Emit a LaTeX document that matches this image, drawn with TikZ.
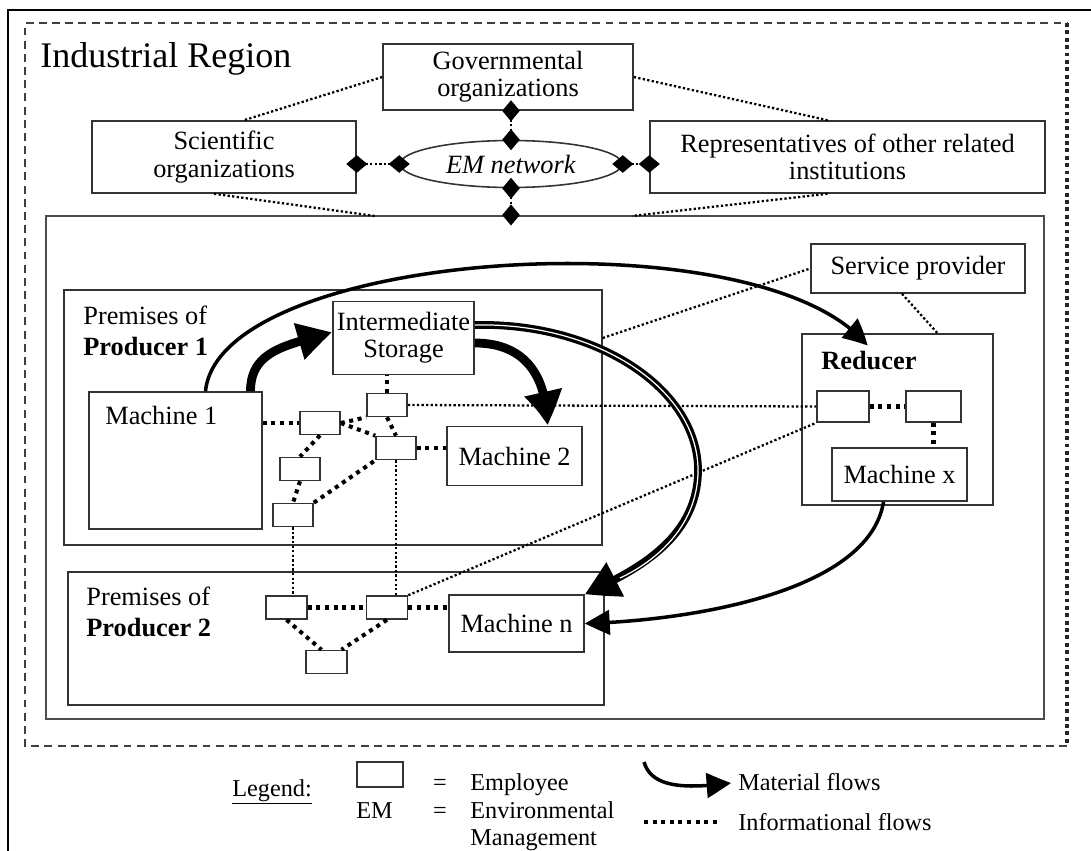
\documentclass[tikz,border=0pt]{standalone}
\usepackage{fontspec}
\setmainfont{Liberation Serif}
\usetikzlibrary{arrows.meta,bending,shapes.geometric}
\newcommand{\boxfont}{\fontsize{15}{15.5}\selectfont}
\newcommand{\premfont}{\fontsize{15}{17.5}\selectfont}
\newcommand{\legfont}{\fontsize{13.8}{15.3}\selectfont}

\begin{document}
\begin{tikzpicture}[x=0.02cm,y=-0.02cm,>=latex]
	\useasboundingbox (0,0) rectangle (1091,851);
	\tikzstyle{every node}=[inner sep=0pt]
	\tikzstyle{box}=[draw=black!80,line width=0.9pt,rectangle,align=center,font=\boxfont]
	\tikzstyle{emp}=[box,minimum width=0.8cm,minimum height=0.46cm]
	\tikzstyle{lbl}=[anchor=north west,align=left,font=\premfont]
	\tikzstyle{link}=[line width=1.3pt,dash pattern=on 1.3pt off 1.3pt]
	\tikzstyle{info}=[line width=2.3pt,dash pattern=on 2.3pt off 2.6pt]
	\tikzstyle{net}=[link,{Diamond[length=12pt,width=10pt]}-{Diamond[length=12pt,width=10pt]},shorten <=-6pt,shorten >=-6pt]
	\tikzstyle{flow}=[line width=2pt,-{Triangle[length=14pt,width=14pt,bend]}]
	\tikzstyle{bigflow}=[line width=5pt,-{Triangle[length=20pt,width=20pt,bend]}]
	\tikzstyle{dflow}=[line width=4.4pt,-{Triangle[length=19pt,width=21pt,bend]},postaction={draw=white,line width=0.7pt,-,shorten >=22pt}]

	%% Frame and region
	\draw [line width=1.1pt] (1091,10) -- (8,10) -- (8,851);
	\draw [draw=black!75,line width=1pt,dash pattern=on 4.5pt off 3pt] (1067,746) -- (25,746) -- (25,23) -- (1067,23);
	\draw [draw=black!85,line width=2.2pt,dash pattern=on 2.2pt off 2pt] (1067,23) -- (1067,746);
	\draw (40,42) node [anchor=north west,font=\fontsize{20.5}{24}\selectfont] (region) {Industrial Region};

	%% EM network
	\draw (508,77) node [box,minimum width=5cm,minimum height=1.32cm] (gov) {Governmental\\organizations};
	\draw (224,157) node [box,minimum width=5.28cm,minimum height=1.44cm] (sci) {Scientific\\organizations};
	\draw (847.5,157) node [box,minimum width=7.9cm,minimum height=1.44cm] (rep) {Representatives of other related\\institutions};
	\draw (511,164) node [box,ellipse,minimum width=4.44cm,minimum height=0.94cm] (em) {\textit{EM network}};

	%% Site
	\draw (545,467.5) node [box,draw=black!70,line width=1.2pt,minimum width=19.96cm,minimum height=10.06cm] (park) {};
	\coordinate (parkl) at (375,216);
	\coordinate (parkr) at (632,216);

	\draw [net] (gov.south -| em.north) -- (em.north);
	\draw [net] (em.south) -- (em.south |- park.north);
	\draw [net] (sci.east |- em.west) -- (em.west);
	\draw [net] (em.east) -- (rep.west |- em.east);
	\draw [link] (gov.west) -- ([xshift=0.4cm]sci.north);
	\draw [link] ([xshift=-0.2cm]sci.south) -- (parkl);
	\draw [link] (gov.east) -- ([xshift=-0.4cm]rep.north);
	\draw [link] ([xshift=-0.4cm]rep.south) -- (parkr);

	%% Producer 1
	\draw (333,417.5) node [box,minimum width=10.76cm,minimum height=5.1cm] (prem1) {};
	\draw (83,306) node [lbl] (prem1lbl) {Premises of\\\textbf{Producer 1}};
	\draw (403.5,338) node [box,minimum width=2.82cm,minimum height=1.46cm] (stor) {Intermediate\\Storage};
	\draw (175.5,460.5) node [box,minimum width=3.46cm,minimum height=2.74cm] (mach1) {};
	\draw (105,406) node [anchor=north west,font=\boxfont] (mach1lbl) {Machine 1};
	\draw (514.5,456) node [box,minimum width=2.7cm,minimum height=1.18cm] (mach2) {Machine 2};
	\draw (387,405) node [emp] (ea) {};
	\draw (320,423) node [emp] (eb) {};
	\draw (396,448) node [emp] (ec) {};
	\draw (300,469) node [emp] (ed) {};
	\draw (293,515) node [emp] (ee) {};

	%% Reducer
	\draw (918,268.5) node [box,minimum width=4.28cm,minimum height=0.98cm] (serv) {Service provider};
	\draw (897.5,419.5) node [box,minimum width=3.82cm,minimum height=3.42cm] (red) {};
	\draw (821,351) node [anchor=north west,font=\boxfont\bfseries] (redlbl) {Reducer};
	\draw (843,406.5) node [emp,minimum width=1.04cm,minimum height=0.62cm] (ra) {};
	\draw (933.5,406.5) node [emp,minimum width=1.1cm,minimum height=0.62cm] (rb) {};
	\draw (899.5,474.5) node [box,minimum width=2.7cm,minimum height=1.06cm] (machx) {Machine x};

	%% Producer 2
	\draw (336,638.5) node [box,minimum width=10.72cm,minimum height=2.66cm] (prem2) {};
	\draw (86,587) node [lbl] (prem2lbl) {Premises of\\\textbf{Producer 2}};
	\draw (286.5,607.5) node [emp,minimum width=0.82cm] (qa) {};
	\draw (387,607.5) node [emp,minimum width=0.82cm] (qb) {};
	\draw (326.5,662) node [emp,minimum width=0.82cm] (qc) {};
	\draw (516.5,623.5) node [box,minimum width=2.7cm,minimum height=1.14cm] (machn) {Machine n};

	%% Informational flows
	\draw [info] (eb.west -| mach1.east) -- (eb.west);
	\draw [info] (eb.east) -- (ea.south west);
	\draw [info] (eb.east) -- (ec.north west);
	\draw [info] (ea.north) -- (ea.north |- stor.south);
	\draw [info] (ea.south) -- (ec.north);
	\draw [info] (ec.east) -- (ec.east -| mach2.west);
	\draw [info] (eb.south) -- (ed.north);
	\draw [info] (ed.south) -- (ee.north);
	\draw [info] (ee.north east) -- (ec.south west);
	\draw [info] (ra.east) -- (rb.west);
	\draw [info] (rb.south) -- (rb.south |- machx.north);
	\draw [info] (qa.east) -- (qb.west);
	\draw [info] (qb.east) -- (qb.east -| machn.west);
	\draw [info] (qa.south) -- ([xshift=-0.1cm]qc.north);
	\draw [info] (qb.south) -- ([xshift=0.3cm]qc.north);

	\draw [link] (ea.east) -- (ra.west);
	\draw [link] (ee.south) -- (ee.south |- qa.north);
	\draw [link] (ec.south) -- (ec.south |- qb.north);
	\draw [link] (qb.north east) -- (ra.south west);
	\draw [link] (prem1.east |- stor.east) -- (serv.west);
	\draw [link] ([xshift=-0.32cm]serv.south) -- ([xshift=0.8cm]red.north);

	%% Material flows
	\coordinate (turn) at (698,473);
	\draw [flow] ([xshift=0.6cm]mach1.north) .. controls +(14,-142) and +(-107,-132) .. ([xshift=-0.6cm,yshift=-0.25cm]red.north);
	\draw [bigflow] ([xshift=1.5cm]mach1.north) .. controls +(0,-42) and +(-43,13) .. ([yshift=0.12cm]stor.west);
	\draw [bigflow] ([yshift=-0.1cm]stor.east) .. controls +(46,0) and +(0,-55) .. ([xshift=0.65cm]mach2.north);
	\draw [dflow] ([yshift=0.26cm]stor.east) .. controls +(123,-3) and +(2,-83) .. (turn) .. controls +(-2,67) and +(50,-23) .. (machn.north east);
	\draw [flow] ([xshift=-0.32cm]machx.south) .. controls +(-14,89) and +(110,-3) .. (machn.east);

	%% Legend
	\draw (232,796) node [anchor=base west,font=\legfont] (leg) {\underline{Legend:}};
	\draw (380,774.5) node [emp,minimum width=0.92cm,minimum height=0.5cm] (legemp) {};
	\draw (440,790) node [anchor=base,font=\legfont] (eqa) {=};
	\draw (470,790) node [anchor=base west,font=\legfont] (legempt) {Employee};
	\draw (356,818) node [anchor=base west,font=\legfont] (legem) {EM};
	\draw (440,818) node [anchor=base,font=\legfont] (eqb) {=};
	\draw (470,801) node [anchor=north west,align=left,font=\legfont] (legemt) {Environmental\\Management};
	\coordinate (lega) at (644,762);
	\coordinate (legb) at (731,783);
	\draw [flow] (lega) .. controls +(8,28) and +(-40,5) .. (legb);
	\draw (738,790) node [anchor=base west,font=\legfont] (legmat) {Material flows};
	\coordinate (legc) at (644,822);
	\coordinate (legd) at (720,822);
	\draw [info] (legc) -- (legd);
	\draw (738,830) node [anchor=base west,font=\legfont] (leginf) {Informational flows};

\end{tikzpicture}
\end{document}
